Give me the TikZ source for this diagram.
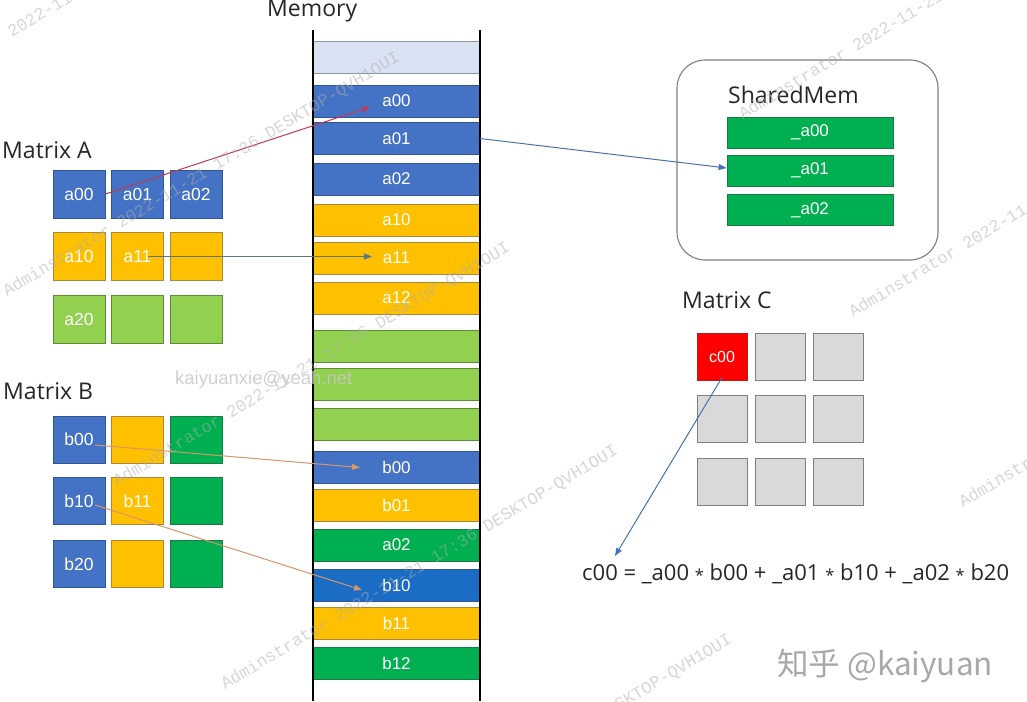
\documentclass[tikz,border=0pt]{standalone}
\usepackage{graphicx}
\usepackage{fontspec}
\setmainfont{Liberation Sans}
\newfontfamily\hdfont{Open Sans}
\newfontfamily\wmfont{Liberation Mono}
\newfontfamily\cjkfont{Noto Sans CJK SC}
\usetikzlibrary{arrows.meta,calc}
\definecolor{cbl}{HTML}{4472C4}
\definecolor{cblB}{HTML}{2F5597}
\definecolor{cdb}{HTML}{1A6CC4}
\definecolor{cyl}{HTML}{FFC000}
\definecolor{cylB}{HTML}{A68A3C}
\definecolor{clg}{HTML}{92D050}
\definecolor{clgB}{HTML}{5E8A3A}
\definecolor{cdg}{HTML}{00B050}
\definecolor{cdgB}{HTML}{1E7A45}
\definecolor{clb}{HTML}{DAE3F3}
\definecolor{clbB}{HTML}{8A96A8}
\definecolor{cgr}{HTML}{D9D9D9}
\definecolor{cgrB}{HTML}{7F7F7F}
\definecolor{crd}{HTML}{FF0000}
\definecolor{crdB}{HTML}{B02020}
\definecolor{arRed}{HTML}{C03A55}
\definecolor{arGray}{HTML}{5F7485}
\definecolor{arBlue}{HTML}{4A72B0}
\definecolor{arTan}{HTML}{D8956A}
\definecolor{hdtext}{HTML}{262626}
\newcommand\mstar{\raisebox{-0.1ex}{\scalebox{0.75}{*}}}
\tikzset{
  fbl/.style={fill=cbl, draw=cblB},
  fdb/.style={fill=cdb, draw=cblB},
  fyl/.style={fill=cyl, draw=cylB},
  flg/.style={fill=clg, draw=clgB},
  fdg/.style={fill=cdg, draw=cdgB},
  flb/.style={fill=clb, draw=clbB},
  fgr/.style={fill=cgr, draw=cgrB},
  frd/.style={fill=crd, draw=crdB},
  cellbox/.style={rectangle, minimum width=52pt, minimum height=48pt, inner sep=0pt,
    line width=0.9pt, text=white, font=\fontsize{17.5}{17.5}\selectfont},
  cellc/.style={cellbox, minimum width=50pt, minimum height=47pt, font=\fontsize{16}{16}\selectfont},
  memblk/.style={rectangle, minimum width=166pt, minimum height=32pt, inner sep=0pt,
    line width=0.9pt, text=white, font=\fontsize{17}{17}\selectfont},
  smbar/.style={rectangle, fill=cdg, draw=cdgB, minimum width=166pt, minimum height=31pt,
    inner sep=0pt, line width=0.8pt, text=white, font=\fontsize{17}{17}\selectfont},
  hdr/.style={inner sep=0pt, anchor=base west, text=hdtext, font=\hdfont\fontsize{23}{23}\selectfont},
  memline/.style={line width=2pt, black},
  arr/.style={line width=1pt, -{Triangle[length=8pt,width=6pt]}},
  wm/.style={inner sep=0pt, anchor=base west, rotate=31, text={rgb,255:red,175;green,175;blue,175},
    opacity=0.5, font=\wmfont\fontsize{17}{17}\selectfont}
}
\begin{document}
\begin{tikzpicture}[x=1pt,y=-1pt]
\useasboundingbox (0,0) rectangle (1027,701);
\fill[white] (0,0) rectangle (1027,701);

% Headers
\node[hdr] (hmem) at (267,17) {Memory};
\node[hdr] (hA) at (2,158) {Matrix A};
\node[hdr] (hB) at (3,399) {Matrix B};
\node[hdr] (hS) at (728,103) {SharedMem};
\node[hdr] (hC) at (682,308) {Matrix C};

% Memory column
\node[memblk,flb] (m0) at (396.5,57.5) {};
\node[memblk,fbl] (m1) at (396.5,101) {a00};
\node[memblk,fbl] (m2) at (396.5,138.5) {a01};
\node[memblk,fbl] (m3) at (396.5,179) {a02};
\node[memblk,fyl] (m4) at (396.5,220) {a10};
\node[memblk,fyl] (m5) at (396.5,258) {a11};
\node[memblk,fyl] (m6) at (396.5,298) {a12};
\node[memblk,flg] (m7) at (396.5,346) {};
\node[memblk,flg] (m8) at (396.5,384) {};
\node[memblk,flg] (m9) at (396.5,424) {};
\node[memblk,fbl] (m10) at (396.5,467.5) {b00};
\node[memblk,fyl] (m11) at (396.5,505) {b01};
\node[memblk,fdg] (m12) at (396.5,545) {a02};
\node[memblk,fdb] (m13) at (396.5,585) {b10};
\node[memblk,fyl] (m14) at (396.5,623) {b11};
\node[memblk,fdg] (m15) at (396.5,663.5) {b12};
\draw[memline] (313,30) -- (313,701);
\draw[memline] (480,30) -- (480,701);

% Matrix A
\node[cellbox,fbl] (a00) at (79,194) {a00};
\node[cellbox,fbl] (a01) at (137.5,194) {a01};
\node[cellbox,fbl] (a02) at (196,194) {a02};
\node[cellbox,fyl] (a10) at (79,256.5) {a10};
\node[cellbox,fyl] (a11) at (137.5,256.5) {a11};
\node[cellbox,fyl] (a12) at (196,256.5) {};
\node[cellbox,flg] (a20) at (79,319) {a20};
\node[cellbox,flg] (a21) at (137.5,319) {};
\node[cellbox,flg] (a22) at (196,319) {};

% Matrix B
\node[cellbox,fbl,minimum height=47pt] (b00) at (79,439.5) {b00};
\node[cellbox,fyl,minimum height=47pt] (b01) at (137.5,439.5) {};
\node[cellbox,fdg,minimum height=47pt] (b02) at (196,439.5) {};
\node[cellbox,fbl,minimum height=47pt] (b10) at (79,501) {b10};
\node[cellbox,fyl,minimum height=47pt] (b11) at (137.5,501) {b11};
\node[cellbox,fdg,minimum height=47pt] (b12) at (196,501) {};
\node[cellbox,fbl,minimum height=47pt] (b20) at (79,564) {b20};
\node[cellbox,fyl,minimum height=47pt] (b21) at (137.5,564) {};
\node[cellbox,fdg,minimum height=47pt] (b22) at (196,564) {};

% SharedMem
\node[draw=cgrB, line width=1.1pt, rounded corners=28pt, minimum width=261pt,
  minimum height=200pt, inner sep=0pt] (smbox) at (807.5,160) {};
\node[smbar] (sa00) at (810,132.5) {\_a00};
\node[smbar] (sa01) at (810,170.5) {\_a01};
\node[smbar] (sa02) at (810,210) {\_a02};

% Matrix C
\node[cellc,frd] (c00) at (722,356.5) {c00};
\node[cellc,fgr] (c01) at (780.5,356.5) {};
\node[cellc,fgr] (c02) at (838.5,356.5) {};
\node[cellc,fgr] (c10) at (722,419) {};
\node[cellc,fgr] (c11) at (780.5,419) {};
\node[cellc,fgr] (c12) at (838.5,419) {};
\node[cellc,fgr] (c20) at (722,482) {};
\node[cellc,fgr] (c21) at (780.5,482) {};
\node[cellc,fgr] (c22) at (838.5,482) {};

% Formula
\node[hdr, font=\hdfont\fontsize{22}{22}\selectfont] (fml) at (582,580)
  {c00 = \_a00 \mstar{} b00 + \_a01 \mstar{} b10 + \_a02 \mstar{} b20};
\coordinate (ftip) at (615,556);

% Connectors
\draw[arr, arRed] (a00.east) -- ([xshift=-26.5pt,yshift=-6pt]m1.center);
\draw[arr, arGray] ([xshift=10.5pt]a11.center) -- ([xshift=-24.5pt,yshift=1.5pt]m5.center);
\draw[arr, arBlue] (m2.east) -- ([yshift=2.5pt]sa01.west);
\draw[arr, arTan] ([xshift=16pt,yshift=-5.5pt]b00.center) -- ([xshift=-36.5pt]m10.center);
\draw[arr, arTan] ([xshift=16pt,yshift=-4pt]b10.center) -- ([xshift=-34.5pt,yshift=-5pt]m13.center);
\draw[arr, arBlue] ([yshift=3pt]c00.south) -- (ftip);

% Watermarks
\begin{scope}
\clip (0,0) rectangle (1027,701);
\node[wm] (w0) at (-102,106) {Adminstrator 2022-11-21 17:36 DESKTOP-QVH1OUI};
\node[wm] (w1) at (7,297) {Adminstrator 2022-11-21 17:36 DESKTOP-QVH1OUI};
\node[wm] (w2) at (117,487) {Adminstrator 2022-11-21 17:36 DESKTOP-QVH1OUI};
\node[wm] (w3) at (225,690) {Adminstrator 2022-11-21 17:36 DESKTOP-QVH1OUI};
\node[wm] (w4) at (339,879) {Adminstrator 2022-11-21 17:36 DESKTOP-QVH1OUI};
\node[wm] (w5) at (743,120) {Adminstrator 2022-11-21 17:36 DESKTOP-QVH1OUI};
\node[wm] (w6) at (853,318) {Adminstrator 2022-11-21 17:36 DESKTOP-QVH1OUI};
\node[wm] (w7) at (963,508) {Adminstrator 2022-11-21 17:36 DESKTOP-QVH1OUI};
\end{scope}
\node[inner sep=0pt, anchor=west, text={rgb,255:red,200;green,200;blue,200}, opacity=0.85,
  font=\fontsize{18.5}{18.5}\selectfont] (mail) at (175,380) {kaiyuanxie@yeah.net};
\node[inner sep=0pt, anchor=base west, text={rgb,255:red,168;green,168;blue,168},
  font=\cjkfont\fontsize{31.5}{31.5}\selectfont] (zh) at (777,675) {知乎 @kaiyuan};
\end{tikzpicture}
\end{document}
